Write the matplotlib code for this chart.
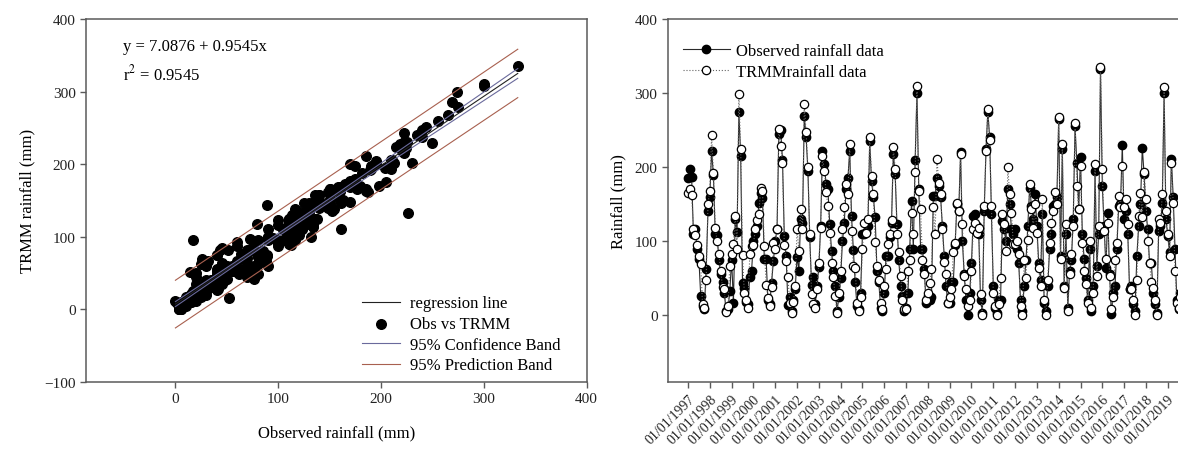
import numpy as np
import matplotlib
matplotlib.use("Agg")
import matplotlib.pyplot as plt

plt.rcParams["font.family"] = ["Liberation Serif", "DejaVu Serif"]
plt.rcParams["mathtext.fontset"] = "stix"

# monthly rainfall (mm), Jan 1997 - Dec 2019
observed = [
    185, 198, 187, 110, 116, 90, 76, 26, 12, 8, 62, 140,          # 1997
    160, 222, 189, 110, 108, 75, 55, 45, 30, 5, 8, 32,            # 1998
    75, 17, 130, 112, 274, 215, 43, 37, 18, 15, 51, 60,           # 1999
    100, 110, 120, 152, 165, 158, 76, 76, 20, 15, 44, 73,         # 2000
    100, 116, 244, 250, 210, 107, 80, 14, 25, 5, 20, 35,          # 2001
    79, 60, 130, 125, 269, 240, 195, 105, 41, 52, 15, 40,         # 2002
    65, 120, 222, 204, 177, 170, 123, 87, 60, 40, 5, 25,          # 2003
    50, 100, 125, 170, 185, 222, 134, 88, 45, 12, 8, 30,          # 2004
    110, 110, 112, 120, 235, 181, 160, 132, 60, 45, 10, 5,        # 2005
    30, 80, 80, 105, 125, 218, 190, 123, 74, 40, 26, 5,           # 2006
    10, 30, 89, 154, 90, 210, 300, 170, 89, 89, 62, 17,           # 2007
    26, 20, 25, 161, 161, 185, 175, 160, 120, 80, 40, 17,         # 2008
    17, 45, 45, 95, 150, 140, 220, 100, 55, 20, 0, 30,            # 2009
    70, 134, 136, 120, 110, 20, 3, 140, 224, 275, 240, 136,       # 2010
    40, 10, 3, 20, 20, 127, 116, 100, 170, 150, 116, 110,         # 2011
    116, 90, 70, 20, 5, 40, 75, 120, 172, 148, 130, 163,          # 2012
    120, 70, 48, 136, 17, 5, 40, 90, 110, 148, 150, 160,          # 2013
    265, 80, 225, 40, 110, 10, 60, 75, 130, 255, 205, 143,        # 2014
    213, 110, 76, 50, 20, 90, 5, 40, 195, 66, 110, 333,           # 2015
    175, 120, 64, 138, 55, 2, 30, 40, 90, 148, 150, 230,          # 2016
    130, 140, 110, 35, 40, 15, 5, 80, 120, 150, 226, 190,         # 2017
    140, 116, 70, 70, 30, 15, 3, 113, 120, 152, 300, 130,         # 2018
    107, 85, 211, 160, 90, 20, 8, 30, 60, 110, 150, 180,          # 2019
]
trmm = [
    165, 170, 162, 116, 108, 95, 80, 69, 15, 10, 48, 150,
    168, 243, 192, 118, 100, 83, 60, 38, 35, 4, 12, 67,
    83, 96, 134, 89, 299, 224, 81, 30, 21, 10, 82, 93,
    95, 116, 128, 136, 172, 168, 93, 41, 23, 12, 38, 97,
    90, 116, 251, 229, 206, 95, 73, 51, 17, 3, 18, 40,
    117, 87, 143, 116, 285, 247, 200, 110, 28, 15, 10, 35,
    71, 118, 215, 195, 166, 148, 111, 71, 51, 26, 3, 30,
    60, 116, 146, 177, 163, 231, 113, 67, 64, 17, 5, 25,
    90, 125, 111, 130, 240, 188, 163, 99, 66, 48, 17, 8,
    40, 62, 96, 110, 128, 227, 198, 110, 85, 53, 20, 8,
    8, 60, 74, 138, 110, 193, 310, 168, 143, 75, 55, 20,
    30, 44, 62, 146, 110, 211, 179, 163, 116, 72, 55, 17,
    25, 35, 85, 98, 152, 140, 218, 123, 53, 35, 12, 20,
    60, 116, 125, 111, 118, 28, 0, 148, 222, 278, 237, 148,
    30, 12, 0, 15, 50, 136, 123, 87, 200, 163, 138, 96,
    96, 100, 82, 12, 0, 75, 50, 102, 177, 143, 118, 150,
    111, 64, 40, 157, 20, 0, 48, 98, 125, 140, 166, 150,
    267, 76, 231, 37, 123, 5, 55, 82, 120, 260, 175, 143,
    202, 98, 60, 42, 17, 100, 10, 30, 204, 53, 120, 335,
    197, 113, 76, 125, 53, 8, 25, 75, 98, 161, 146, 202,
    146, 157, 123, 35, 35, 20, 0, 48, 134, 165, 133, 193,
    157, 100, 71, 45, 37, 21, 0, 130, 125, 163, 308, 140,
    110, 80, 206, 152, 60, 17, 10, 25, 55, 105, 140, 170,
]
years = list(range(1997, 2020))
year_labels = [f"01/01/{y}" for y in years]

# regression reported for the scatter
intercept = 7.0876
slope = 0.9545
r2_text = "0.9545"

obs = np.array(observed, dtype=float)
sat = np.array(trmm, dtype=float)
t = 1997 + np.arange(len(obs)) / 12.0

# confidence / prediction bands around the reported line
n = len(obs)
resid = sat - (intercept + slope * obs)
s = np.sqrt(np.sum(resid ** 2) / (n - 2))
xm = obs.mean()
sxx = np.sum((obs - xm) ** 2)
xx = np.linspace(obs.min(), obs.max(), 200)
yy = intercept + slope * xx
tval = 1.969
ci = tval * s * np.sqrt(1.0 / n + (xx - xm) ** 2 / sxx)
pi = tval * s * np.sqrt(1 + 1.0 / n + (xx - xm) ** 2 / sxx)

fig = plt.figure(figsize=(11.78, 4.64), dpi=100)
ax1 = fig.add_axes([0.073, 0.175, 0.425, 0.782])
ax2 = fig.add_axes([0.567, 0.175, 0.4465, 0.782])

spine_c = "#5a5a5a"
for ax in (ax1, ax2):
    for sp in ax.spines.values():
        sp.set_color(spine_c)
        sp.set_linewidth(1.1)
    ax.tick_params(direction="out", length=4, width=1, color=spine_c,
                   labelsize=11, labelcolor="#222222")

# scatter with regression
ax1.scatter(obs, sat, s=48, color="black", zorder=3, label="Obs vs TRMM")
ax1.plot(xx, yy, color="#222222", lw=0.8, zorder=4, label="regression line")
ax1.plot(xx, yy + ci, color="#6a6a9c", lw=0.8, zorder=4, label="95% Confidence Band")
ax1.plot(xx, yy - ci, color="#6a6a9c", lw=0.8, zorder=4)
ax1.plot(xx, yy + pi, color="#a8604f", lw=0.8, zorder=4, label="95% Prediction Band")
ax1.plot(xx, yy - pi, color="#a8604f", lw=0.8, zorder=4)
ax1.set_xlim(-87, 400)
ax1.set_ylim(-100, 400)
ax1.set_xticks([0, 100, 200, 300, 400])
ax1.set_yticks([-100, 0, 100, 200, 300, 400])
ax1.set_xlabel("Observed rainfall (mm)", fontsize=12, labelpad=14)
ax1.set_ylabel("TRMM rainfall (mm)", fontsize=12, labelpad=6)
ax1.text(0.073, 0.925, f"y = {intercept} + {slope}x", transform=ax1.transAxes,
         fontsize=12, va="center")
ax1.text(0.073, 0.85, r"r$^{2}$" + f" = {r2_text}", transform=ax1.transAxes,
         fontsize=12, va="center")
h, l = ax1.get_legend_handles_labels()
order = [1, 0, 2, 3]
ax1.legend([h[i] for i in order], [l[i] for i in order], loc="lower right",
           frameon=False, fontsize=12, handlelength=2.3, handletextpad=0.6,
           labelspacing=0.28, borderaxespad=0.1,
           bbox_to_anchor=(0.965, 0.0))

# monthly time series
ax2.plot(t, obs, "-", color="#2a2a2a", lw=0.8, marker="o", ms=6,
         mfc="black", mec="black", label="Observed rainfall data")
ax2.plot(t, sat, ":", color="#666666", lw=0.8, marker="o", ms=6,
         mfc="white", mec="black", mew=0.9, label="TRMMrainfall data")
ax2.set_xlim(1996.08, 2020.2)
ax2.set_ylim(-90, 400)
ax2.set_yticks([0, 100, 200, 300, 400])
ax2.set_xticks(years)
ax2.set_xticklabels(year_labels, rotation=45, ha="right", rotation_mode="anchor",
                    fontsize=10)
ax2.set_ylabel("Rainfall (mm)", fontsize=12, labelpad=6)
ax2.legend(loc="upper left", frameon=False, fontsize=12, handlelength=2.8,
           handletextpad=0.4, bbox_to_anchor=(0.0, 0.975), labelspacing=0.3)

fig.savefig("out.png", dpi=100)
